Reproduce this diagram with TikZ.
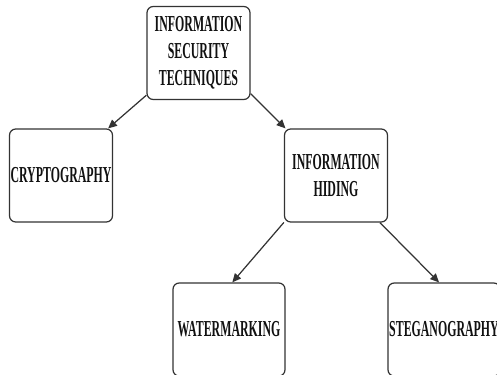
\documentclass[tikz,border=0pt]{standalone}
\usepackage{fontspec}
\setmainfont{Liberation Serif}
\newfontfamily\boxfont[FakeStretch=0.52]{Liberation Serif}
\usetikzlibrary{arrows.meta}

\definecolor{edgeC}{HTML}{333333}
\definecolor{textC}{HTML}{111111}

\begin{document}
\begin{tikzpicture}[x=0.02cm, y=-0.02cm,
  box/.style={draw=edgeC, line width=0.7pt, rounded corners=3.5pt,
              minimum width=#1, minimum height=1.86cm, align=center,
              inner sep=0pt, text=textC,
              font=\boxfont\bfseries\fontsize{13}{15.4}\selectfont},
  arr/.style={-{Triangle[length=5pt,width=4.5pt]}, draw=edgeC, line width=0.7pt},
]
\useasboundingbox (0,0) rectangle (497,375);
\clip (0,0) rectangle (497,375);

% cut-off line of running text above the figure
\node[font=\fontsize{15}{17}\selectfont, anchor=base west, inner sep=0pt] (runtxt) at (-4,-11)
  {the various sharing of data across the world};

% tree of techniques
\node[box=2.06cm] (isec) at (198.5,53) {INFORMATION\\SECURITY\\TECHNIQUES};
\node[box=2.06cm] (crypto) at (61,175.5) {CRYPTOGRAPHY};
\node[box=2.06cm] (ihide) at (336,175.5) {INFORMATION\\HIDING};
\node[box=2.24cm] (water) at (229,329.5) {WATERMARKING};
\node[box=2.24cm] (stega) at (444,329.5) {STEGANOGRAPHY};

% connectors
\draw[arr] (isec.219) -- (crypto.45);
\draw[arr] (isec.322) -- (ihide.137);
\draw[arr] (ihide.222) -- (water.86);
\draw[arr] (ihide.313) -- (stega.96);
\end{tikzpicture}
\end{document}
